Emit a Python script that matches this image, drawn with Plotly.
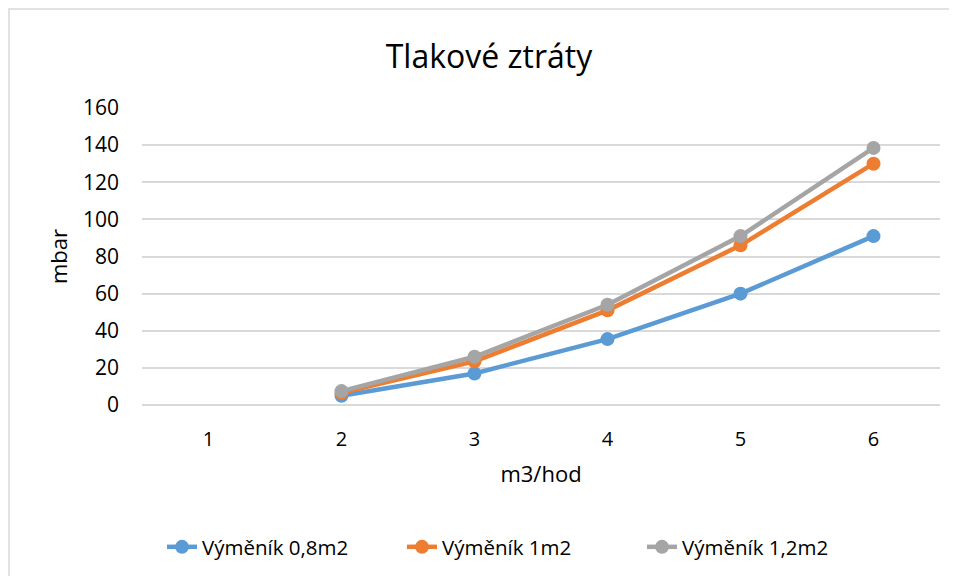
import plotly.graph_objects as go

categories = ["1", "2", "3", "4", "5", "6"]
series_names = ["Výměník 0,8m2", "Výměník 1m2", "Výměník 1,2m2"]
vals_08 = [None, 5, 17, 35.5, 60, 91]
vals_10 = [None, 6.5, 23.5, 51, 86, 130]
vals_12 = [None, 7.5, 26, 54, 91, 138.5]
colors = ["#5B9BD5", "#ED7D31", "#A5A5A5"]

FONT = "Open Sans, Lato, sans-serif"
W, H = 949, 568

fig = go.Figure()
for name, vals, c in zip(series_names, [vals_08, vals_10, vals_12], colors):
    fig.add_trace(go.Scatter(
        x=categories, y=vals, name=name, mode="lines+markers",
        line=dict(color=c, width=4.5), marker=dict(color=c, size=14),
        connectgaps=False,
    ))

fig.update_layout(
    width=W, height=H,
    margin=dict(l=134, r=17, t=100, b=171, autoexpand=False),
    paper_bgcolor="white", plot_bgcolor="white",
    font=dict(family=FONT, color="#000000", size=20),
    title=dict(text="Tlakové ztráty", x=481 / W, xref="container", xanchor="center",
               y=1 - 49 / H, yref="container", yanchor="middle",
               font=dict(size=32, family=FONT, color="#000000")),
    legend=dict(orientation="h", x=(522 - 142) / 798, xanchor="center",
                y=(405 - 547) / 297, yanchor="middle",
                itemwidth=30, entrywidth=195, entrywidthmode="pixels",
                font=dict(size=20.5, family=FONT)),
    showlegend=True,
)
fig.update_xaxes(type="category", range=[-0.5, 5.5], showgrid=False, zeroline=False,
                 showline=False, ticks="", tickfont=dict(size=20),
                 ticklabelstandoff=20,
                 title=dict(text="m3/hod", font=dict(size=22), standoff=15))
fig.update_yaxes(range=[0, 160], dtick=20, showgrid=True, gridcolor="#D9D9D9", gridwidth=1.5,
                 zeroline=True, zerolinecolor="#D9D9D9", zerolinewidth=1.5, showline=False,
                 ticks="", tickfont=dict(size=21),
                 ticklabelstandoff=22,
                 title=dict(text="mbar", font=dict(size=22), standoff=9))

fig.add_shape(type="rect", xref="paper", yref="paper",
              x0=(1 - 134) / 798, x1=1.2, y0=-1.0, y1=(397 - 1) / 297,
              line=dict(color="#D9D9D9", width=1.5), fillcolor="rgba(0,0,0,0)", layer="below")

fig.write_html("out.html")
